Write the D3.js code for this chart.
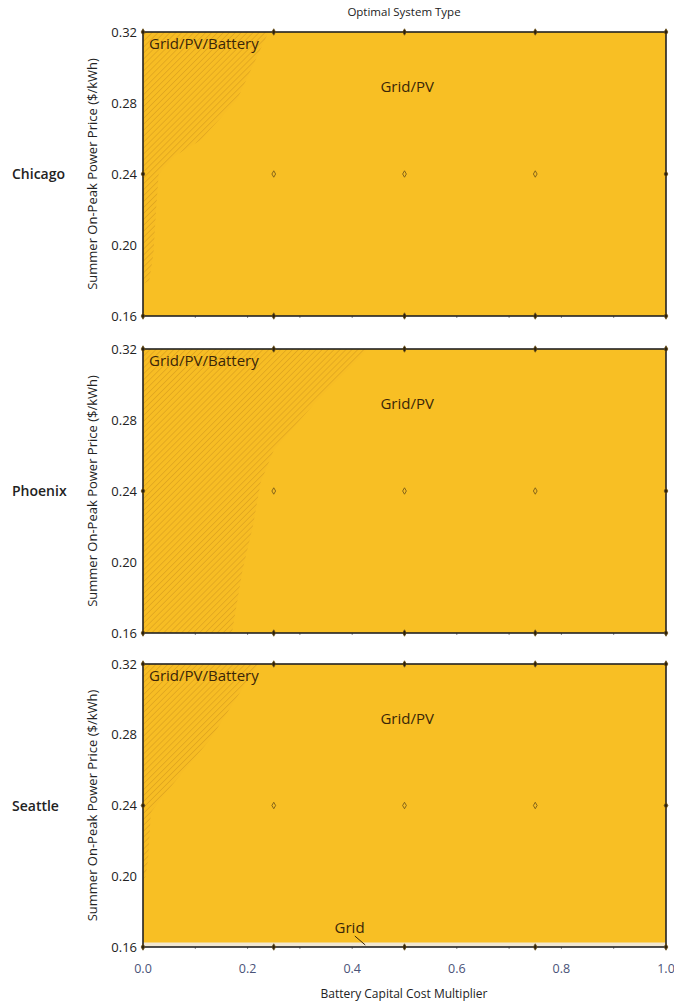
<!DOCTYPE html>
<html>
<head>
<meta charset="utf-8">
<script src="https://cdn.jsdelivr.net/npm/d3@7"></script>
<style>
  body { margin: 0; background: #fff; }
  text { font-family: "Open Sans", "Noto Sans", sans-serif; }
</style>
</head>
<body>
<script>
// cities, one panel each
const cities = ['Chicago', 'Phoenix', 'Seattle'];

// boundary of the Grid/PV/Battery (hatched) region, [multiplier, price]
const batteryRegions = [
  [[0, 0.32], [0.24, 0.32], [0.18, 0.282], [0.11, 0.259], [0.06, 0.25], [0.03, 0.24],
   [0.025, 0.22], [0.02, 0.195], [0.012, 0.18], [0, 0.178]],
  [[0, 0.32], [0.43, 0.32], [0.38, 0.305], [0.33, 0.29], [0.25, 0.263], [0.225, 0.245],
   [0.21, 0.22], [0.19, 0.195], [0.17, 0.16], [0, 0.16]],
  [[0, 0.32], [0.22, 0.32], [0.13, 0.278], [0.04, 0.246], [0.015, 0.236], [0.01, 0.21],
   [0.005, 0.2], [0, 0.198]]
];

// Grid-only band (only Seattle)
const gridRegions = [null, null, [[0, 0.16], [1, 0.16], [1, 0.1626], [0, 0.1626]]];

// sampled design points
const sampleX = [0, 0.25, 0.5, 0.75, 1];
const sampleY = [0.16, 0.24, 0.32];

const yTicks = [0.16, 0.20, 0.24, 0.28, 0.32];
const xTicks = [0, 0.2, 0.4, 0.6, 0.8, 1.0];

const W = 674, H = 1004;
const left = 143, right = 666;
const panelRanges = [[316, 32], [633, 349], [947, 664]];

const svg = d3.select('body').append('svg')
  .attr('width', W)
  .attr('height', H);

const defs = svg.append('defs');
const pat = defs.append('pattern')
  .attr('id', 'hatch')
  .attr('patternUnits', 'userSpaceOnUse')
  .attr('width', 4.2)
  .attr('height', 4.2)
  .attr('patternTransform', 'rotate(45)');
pat.append('rect').attr('width', 4.2).attr('height', 4.2).attr('fill', '#f7bd24');
pat.append('line')
  .attr('x1', 0).attr('y1', 0).attr('x2', 0).attr('y2', 4.2)
  .attr('stroke', '#d69b1e').attr('stroke-width', 1.1);

const x = d3.scaleLinear().domain([0, 1]).range([left, right]);

svg.append('text')
  .attr('x', 404).attr('y', 16)
  .attr('text-anchor', 'middle')
  .attr('font-size', 11.5).attr('fill', '#222')
  .text('Optimal System Type');

cities.forEach((city, i) => {
  const y = d3.scaleLinear().domain([0.16, 0.32]).range(panelRanges[i]);
  const g = svg.append('g');
  const top = y(0.32), bot = y(0.16);

  // base Grid/PV fill
  g.append('rect')
    .attr('x', x(0)).attr('y', top)
    .attr('width', x(1) - x(0)).attr('height', bot - top)
    .attr('fill', '#f8bf24');

  const line = d3.line().x(d => x(d[0])).y(d => y(d[1]));

  g.append('path')
    .attr('d', line(batteryRegions[i]) + 'Z')
    .attr('fill', 'url(#hatch)');

  if (gridRegions[i]) {
    g.append('path')
      .attr('d', line(gridRegions[i]) + 'Z')
      .attr('fill', '#f1e7d2');
  }

  // minor x ticks
  g.selectAll('.mt').data(d3.range(0.1, 1, 0.1)).enter().append('line')
    .attr('x1', d => x(d)).attr('x2', d => x(d))
    .attr('y1', bot).attr('y2', bot + 2)
    .attr('stroke', '#888').attr('stroke-width', 1);

  // frame
  g.append('rect')
    .attr('x', x(0)).attr('y', top)
    .attr('width', x(1) - x(0)).attr('height', bot - top)
    .attr('fill', 'none').attr('stroke', '#222').attr('stroke-width', 1.6);

  // sample points
  const pts = [];
  sampleX.forEach(a => sampleY.forEach(b => pts.push([a, b])));
  g.selectAll('.pt').data(pts).enter().append('path')
    .attr('d', d3.symbol(d3.symbolDiamond, 12))
    .attr('transform', d => `translate(${x(d[0])},${y(d[1])})`)
    .attr('fill', d => (d[0] === 0 || d[0] === 1 || d[1] !== 0.24) ? '#2a2010' : 'none')
    .attr('stroke', '#6b5018').attr('stroke-width', 0.8);

  // y axis tick labels
  g.selectAll('.yt').data(yTicks).enter().append('text')
    .attr('x', x(0) - 6).attr('y', d => y(d) + 4.5)
    .attr('text-anchor', 'end')
    .attr('font-size', 13).attr('fill', '#222')
    .text(d3.format('.2f'));

  // y axis label
  g.append('text')
    .attr('transform', `translate(97,${(top + bot) / 2}) rotate(-90)`)
    .attr('text-anchor', 'middle')
    .attr('font-size', 13).attr('fill', '#222')
    .text('Summer On-Peak Power Price ($/kWh)');

  // city
  g.append('text')
    .attr('x', 12).attr('y', y(0.24) + 5)
    .attr('font-size', 14).attr('font-weight', 600).attr('fill', '#222')
    .text(city);

  // region labels
  g.append('text')
    .attr('x', x(0) + 6).attr('y', top + 17)
    .attr('font-size', 15).attr('fill', '#3a2608')
    .text('Grid/PV/Battery');

  g.append('text')
    .attr('x', x(0.505)).attr('y', y(0.28) - 11)
    .attr('text-anchor', 'middle')
    .attr('font-size', 15).attr('fill', '#3a2608')
    .text('Grid/PV');

  if (gridRegions[i]) {
    g.append('text')
      .attr('x', x(0.395)).attr('y', bot - 14)
      .attr('text-anchor', 'middle')
      .attr('font-size', 15).attr('fill', '#3a2608')
      .text('Grid');
    g.append('line')
      .attr('x1', x(0.405)).attr('y1', bot - 11)
      .attr('x2', x(0.425)).attr('y2', bot - 2)
      .attr('stroke', '#3a2608').attr('stroke-width', 1);
  }

  if (i === cities.length - 1) {
    g.selectAll('.xt').data(xTicks).enter().append('text')
      .attr('x', d => x(d)).attr('y', bot + 26)
      .attr('text-anchor', 'middle')
      .attr('font-size', 12.5).attr('fill', '#4a5378')
      .text(d3.format('.1f'));
    svg.append('text')
      .attr('x', 404).attr('y', 998)
      .attr('text-anchor', 'middle')
      .attr('font-size', 12).attr('fill', '#222')
      .text('Battery Capital Cost Multiplier');
  }
});
</script>
</body>
</html>
